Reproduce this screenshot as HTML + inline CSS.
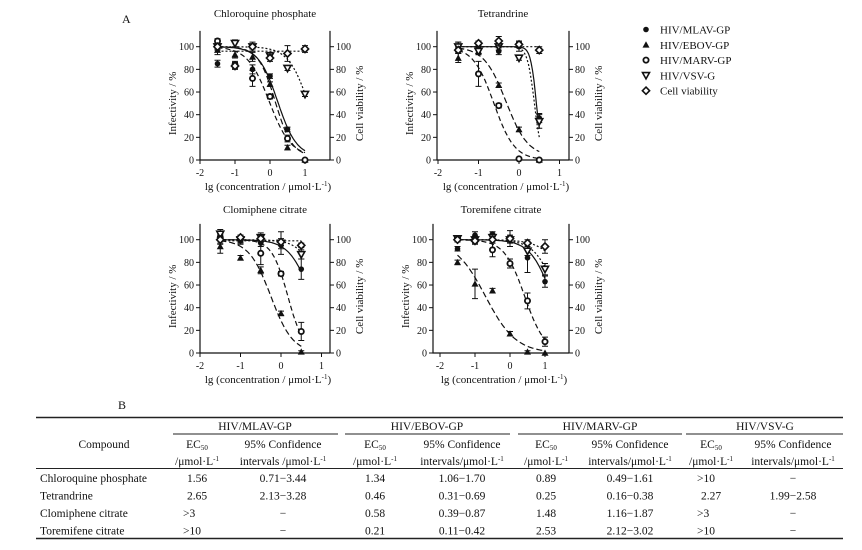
<!DOCTYPE html>
<html><head><meta charset="utf-8">
<style>
body{margin:0;background:#fff;width:862px;height:545px;overflow:hidden;font-family:"Liberation Serif",serif;color:#111}
svg text{font-family:"Liberation Serif",serif;fill:#111}
</style></head>
<body>
<svg id="fig" width="862" height="545" viewBox="0 0 862 545" xmlns="http://www.w3.org/2000/svg">
<text x="122" y="23" font-size="12">A</text>
<text x="118" y="409" font-size="12">B</text>
<g id="legend"></g>
<g id="panels"></g>
<g id="table"></g>
</svg>
<script>
const NS="http://www.w3.org/2000/svg";
const seriesNames=["HIV/MLAV-GP","HIV/EBOV-GP","HIV/MARV-GP","HIV/VSV-G","Cell viability"];
const titles=["Chloroquine phosphate","Tetrandrine","Clomiphene citrate","Toremifene citrate"];
const xTicks=[-2,-1,0,1];
const yTicks=[0,20,40,60,80,100];
// concentrations (lg) per panel
const xs1=[-1.5,-1,-0.5,0,0.5,1];
const xs2=[-1.5,-1,-0.5,0,0.5];
const xs3=[-1.5,-1,-0.5,0,0.5];
const xs4=[-1.5,-1,-0.5,0,0.5,1];
// values per panel: MLAV, EBOV, MARV, VSV, Cell
const p1MLAV=[85,83,80,74,27,0], p1EBOV=[97,93,91,67,11,0], p1MARV=[105,84,72,56,19,0], p1VSV=[100,103,100,92,81,58], p1Cell=[100,83,100,90,94,98];
const p2MLAV=[100,100,96,100,37], p2EBOV=[90,96,66,27,0], p2MARV=[97,76,48,1,0], p2VSV=[100,96,100,90,34], p2Cell=[97,103,105,102,97];
const p3MLAV=[100,99,97,95,74], p3EBOV=[94,84,73,35,1], p3MARV=[102,101,88,70,19], p3VSV=[105,100,102,97,87], p3Cell=[100,102,101,98,95];
const p4MLAV=[92,104,105,101,84,63], p4EBOV=[80,61,55,17,1,0], p4MARV=[101,100,91,79,46,10], p4VSV=[101,100,102,100,90,74], p4Cell=[100,99,100,101,97,94];
// error bars (half-width %)
const p1Err=[[3,3,4,2,2,0],[4,3,4,2,2,0],[2,3,7,2,3,0],[3,3,4,3,2,2],[2,2,2,3,7,3]];
const p2Err=[[4,2,3,4,4],[4,3,2,2,1],[3,11,2,1,0],[4,3,3,2,6],[2,2,4,3,3]];
const p3Err=[[4,3,3,3,9],[6,2,3,2,1],[3,3,10,2,8],[4,3,4,10,4],[3,2,3,3,2]];
const p4Err=[[2,3,2,7,13,5],[2,13,2,2,1,0],[2,3,6,4,7,4],[2,3,3,3,4,5],[2,3,3,3,3,6]];
// fitted curve parameters: logEC50, hill slope, top, bottom
const p1Fit=[[0.22,1.6,100,3],[0.15,1.8,100,3],[-0.02,1.4,100,3],[1.1,1.5,100,0],[5,1,96,96]];
const p2Fit=[[0.43,6,100,0],[-0.32,1.6,100,3],[-0.62,1.7,100,0],[0.38,5,100,0],[5,1,100,100]];
const p3Fit=[[0.75,1.6,100,0],[-0.25,1.6,100,0],[0.17,2.2,100,0],[1.0,1.8,100,0],[5,1,99,99]];
const p4Fit=[[1.2,1.4,100,0],[-0.7,1.0,100,0],[0.42,1.5,100,0],[1.35,1.4,100,0],[1.8,1.2,100,0]];
const styles=["none","6,3","5,3","2,2","2,2"];
const curveRanges=[[[-1.5,1],[-1.5,1],[-1.5,1],[-1.5,1],[-1.5,1]],[[-1.5,0.5],[-1.5,0.5],[-1.5,0.5],[-1.5,0.5],[-1.5,0.5]],[[-1.5,0.5],[-1.5,0.5],[-1.5,0.5],[-1.5,0.5],[-1.5,0.5]],[[-1.5,1],[-1.5,1],[-1.5,1],[-1.5,1],[-1.5,1]]];
const panels=[
 {xs:xs1,vals:[p1MLAV,p1EBOV,p1MARV,p1VSV,p1Cell],err:p1Err,fit:p1Fit,axL:200,x0:200,ux:35,axR:330,y0:160,uy:1.133,ty:17},
 {xs:xs2,vals:[p2MLAV,p2EBOV,p2MARV,p2VSV,p2Cell],err:p2Err,fit:p2Fit,axL:437,x0:438,ux:40.5,axR:569,y0:160,uy:1.133,ty:17},
 {xs:xs3,vals:[p3MLAV,p3EBOV,p3MARV,p3VSV,p3Cell],err:p3Err,fit:p3Fit,axL:200,x0:200,ux:40.5,axR:330,y0:353,uy:1.133,ty:213},
 {xs:xs4,vals:[p4MLAV,p4EBOV,p4MARV,p4VSV,p4Cell],err:p4Err,fit:p4Fit,axL:433,x0:440,ux:35,axR:569,y0:353,uy:1.133,ty:213}
];
function mk(tag,attrs,parent){const e=document.createElementNS(NS,tag);for(const k in attrs)e.setAttribute(k,attrs[k]);parent.appendChild(e);return e;}
function marker(g,type,cx,cy){
 let e;
 if(type===0){e=mk("circle",{cx:cx,cy:cy,r:2.8,fill:"#111"},g);}
 else if(type===1){e=mk("polygon",{points:`${cx},${cy-3.5} ${cx-3.5},${cy+2.8} ${cx+3.5},${cy+2.8}`,fill:"#111"},g);}
 else if(type===2){e=mk("circle",{cx:cx,cy:cy,r:2.6,fill:"#fff",stroke:"#111","stroke-width":1.8},g);}
 else if(type===3){e=mk("polygon",{points:`${cx-3.5},${cy-2.8} ${cx+3.5},${cy-2.8} ${cx},${cy+3.5}`,fill:"#fff",stroke:"#111","stroke-width":1.6},g);}
 else {e=mk("polygon",{points:`${cx},${cy-3.6} ${cx+3.6},${cy} ${cx},${cy+3.6} ${cx-3.6},${cy}`,fill:"#fff",stroke:"#111","stroke-width":1.6},g);}
 return e;
}
const pg=document.getElementById("panels");
panels.forEach((p,pi)=>{
 const g=mk("g",{},pg);
 
 
 const X=v=>p.x0+(v+2)*p.ux, Y=v=>p.y0-v*p.uy;
 const top=Y(114);
 const cx=(p.axL+p.axR)/2;
 const t=mk("text",{x:cx,y:p.ty,"font-size":11,"text-anchor":"middle"},g);t.textContent=titles[pi];
 
 
 const ax=mk("path",{d:`M${p.axL},${top}V${p.y0}H${p.axR}M${p.axR},${top}V${p.y0}`,stroke:"#111","stroke-width":1.2,fill:"none"},g);
 
 
 yTicks.forEach(v=>{
  mk("line",{x1:p.axL-4,x2:p.axL,y1:Y(v),y2:Y(v),stroke:"#111"},g);
  mk("line",{x1:p.axR,x2:p.axR+4,y1:Y(v),y2:Y(v),stroke:"#111"},g);
  const l=mk("text",{x:p.axL-6,y:Y(v)+3.5,"font-size":10,"text-anchor":"end"},g);l.textContent=v;
  
  
  const r=mk("text",{x:p.axR+6,y:Y(v)+3.5,"font-size":10},g);r.textContent=v;
  
  
 });
 xTicks.forEach(v=>{
  if(X(v)>p.axR+1)return;
  mk("line",{x1:X(v),x2:X(v),y1:p.y0,y2:p.y0+4,stroke:"#111"},g);
  const l=mk("text",{x:X(v),y:p.y0+16,"font-size":10,"text-anchor":"middle"},g);l.textContent=v;
  
  
 });
 const xl=mk("text",{x:cx+3,y:p.y0+30,"font-size":11,"text-anchor":"middle"},g);
 xl.innerHTML='lg (concentration /  μmol·L<tspan dy="-4" font-size="7">-1</tspan><tspan dy="4">)</tspan>';
 
 
 const ymid=Y(50);
 const yl=mk("text",{x:0,y:0,"font-size":11,"text-anchor":"middle",transform:`translate(${p.axL-24},${ymid}) rotate(-90)`},g);yl.textContent="Infectivity / %";
 
 
 const yr=mk("text",{x:0,y:0,"font-size":11,"text-anchor":"middle",transform:`translate(${p.axR+33},${ymid}) rotate(-90)`},g);yr.textContent="Cell viability / %";
 
 
 p.vals.forEach((vals,si)=>{
  const f=p.fit[si];const rng=curveRanges[pi][si];
  let d="";
  for(let k=0;k<=60;k++){const x=rng[0]+(rng[1]-rng[0])*k/60;const y=f[3]+(f[2]-f[3])/(1+Math.pow(10,(x-f[0])*f[1]));d+=(k?"L":"M")+X(x).toFixed(1)+","+Y(y).toFixed(1);}
  const c=mk("path",{d:d,fill:"none",stroke:"#111","stroke-width":1.2,"stroke-dasharray":styles[si]},g);
  
  
  vals.forEach((v,i)=>{
   const e=p.err[si][i];
   if(e>0){mk("path",{d:`M${X(p.xs[i])},${Y(v+e)}V${Y(v-e)}M${X(p.xs[i])-3},${Y(v+e)}h6M${X(p.xs[i])-3},${Y(v-e)}h6`,stroke:"#111","stroke-width":1},g);}
   const m=marker(g,si,X(p.xs[i]),Y(v));
   
   
  });
 });
});
// legend
const lg=document.getElementById("legend");
seriesNames.forEach((n,i)=>{
 const y=29.5+i*15.3;
 const gg=mk("g",{},lg);
 
 
 marker(gg,i,646,y);
 const t=mk("text",{x:660,y:y+4,"font-size":11},gg);t.textContent=n;
});
// table
const tb=document.getElementById("table");
function tx(s,x,y,anchor,name){const t=mk("text",{x:x,y:y,"font-size":11.5,"text-anchor":anchor||"middle"},tb);t.innerHTML=s;return t;}
mk("line",{x1:36,x2:843,y1:417.5,y2:417.5,stroke:"#222","stroke-width":1.4},tb);
[[173,338],[345,510],[518,682],[686,843]].forEach(s=>mk("line",{x1:s[0],x2:s[1],y1:434,y2:434,stroke:"#222","stroke-width":0.9},tb));
mk("line",{x1:36,x2:843,y1:468.5,y2:468.5,stroke:"#222","stroke-width":0.9},tb);
mk("line",{x1:36,x2:843,y1:538.5,y2:538.5,stroke:"#222","stroke-width":1.4},tb);
const groups=["HIV/MLAV-GP","HIV/EBOV-GP","HIV/MARV-GP","HIV/VSV-G"];
const gx=[255,427,600,765];
const ecx=[197,375,546,711], cix=[283,462,630,793];
groups.forEach((g,i)=>{
 tx(g,gx[i],430,"middle","group-header");
 tx('EC<tspan font-size="7" dy="2">50</tspan>',ecx[i],448,"middle","ec50-header");
 tx('/μmol·L<tspan font-size="7" dy="-4">-1</tspan>',ecx[i],465,"middle","ec50-unit");
 tx('95% Confidence',cix[i],448,"middle","ci-header");
 tx((i===0?'intervals /μmol·L':'intervals/μmol·L')+'<tspan font-size="7" dy="-4">-1</tspan>',cix[i],465,"middle","ci-unit");
});
tx("Compound",104,448,"middle","compound-header");
const rows=[["Chloroquine phosphate","1.56","0.71−3.44","1.34","1.06−1.70","0.89","0.49−1.61","&gt;10","−"],
["Tetrandrine","2.65","2.13−3.28","0.46","0.31−0.69","0.25","0.16−0.38","2.27","1.99−2.58"],
["Clomiphene citrate","&gt;3","−","0.58","0.39−0.87","1.48","1.16−1.87","&gt;3","−"],
["Toremifene citrate","&gt;10","−","0.21","0.11−0.42","2.53","2.12−3.02","&gt;10","−"]];
rows.forEach((r,ri)=>{
 const y=482+ri*17.5;
 tx(r[0],40,y,"start","compound-name");
 for(let k=0;k<4;k++){
  const v=r[1+2*k];
  if(v.startsWith("&gt;"))tx(v,ecx[k]-14,y,"start","ec50-value"); else tx(v,ecx[k],y,"middle","ec50-value");
  tx(r[2+2*k],cix[k],y,"middle","ci-value");
 }
});
</script>
</body></html>
